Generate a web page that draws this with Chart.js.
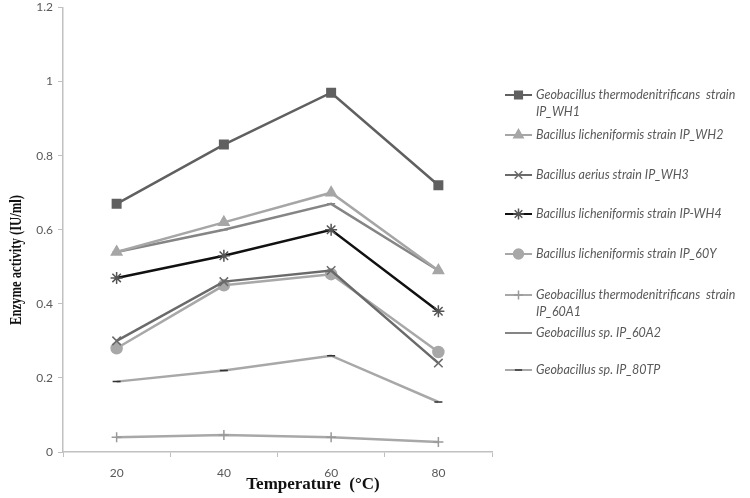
<!DOCTYPE html>
<html>
<head>
<meta charset="utf-8">
<script src="https://cdn.jsdelivr.net/npm/chart.js@4.4.1/dist/chart.umd.min.js"></script>
<style>
  html, body { margin: 0; padding: 0; background: #ffffff; }
  #wrap { position: relative; width: 750px; height: 498px; }
</style>
</head>
<body>
<div id="wrap"><canvas id="c" width="750" height="498"></canvas></div>
<script>
// ---- data ----
const categories = ['20', '40', '60', '80'];
const yTicks = [0, 0.2, 0.4, 0.6, 0.8, 1, 1.2];
const seriesNames = [
  'Geobacillus thermodenitrificans  strain IP_WH1',
  'Bacillus licheniformis strain IP_WH2',
  'Bacillus aerius strain IP_WH3',
  'Bacillus licheniformis strain IP-WH4',
  'Bacillus licheniformis strain IP_60Y',
  'Geobacillus thermodenitrificans  strain IP_60A1',
  'Geobacillus sp. IP_60A2',
  'Geobacillus sp. IP_80TP'
];
const wh1  = [0.67, 0.83, 0.97, 0.72];
const wh2  = [0.54, 0.62, 0.70, 0.49];
const wh3  = [0.30, 0.46, 0.49, 0.24];
const wh4  = [0.47, 0.53, 0.60, 0.38];
const y60  = [0.28, 0.45, 0.48, 0.27];
const a601 = [0.04, 0.046, 0.04, 0.027];
const a602 = [0.54, 0.60, 0.67, 0.49];
const tp80 = [0.19, 0.22, 0.26, 0.135];
const xTitle = 'Temperature  (°C)';
const yTitle = 'Enzyme activity (IU/ml)';

// ---- styles ----
const styles = [
  { color: '#606060', point: 'rect',     radius: 6,   pcolor: '#606060', width: 2.5 },
  { color: '#a6a6a6', point: 'triangle', radius: 6,   pcolor: '#a6a6a6', width: 2.5 },
  { color: '#6a6a6a', point: 'crossRot', radius: 6,   pcolor: '#6a6a6a', width: 2.5 },
  { color: '#111111', point: 'star',     radius: 6,   pcolor: '#555555', width: 2.5 },
  { color: '#a8a8a8', point: 'circle',   radius: 5.5, pcolor: '#a8a8a8', width: 2.5 },
  { color: '#a8a8a8', point: 'cross',    radius: 5,   pcolor: '#999999', width: 2.5 },
  { color: '#858585', point: 'line',     radius: 4,   pcolor: '#858585', width: 2.5 },
  { color: '#a8a8a8', point: 'line',     radius: 4,   pcolor: '#333333', width: 2.5 }
];
const seriesData = [wh1, wh2, wh3, wh4, y60, a601, a602, tp80];

const datasets = seriesData.map((d, i) => ({
  label: seriesNames[i],
  data: d,
  borderColor: styles[i].color,
  backgroundColor: styles[i].pcolor,
  pointBorderColor: styles[i].pcolor,
  pointBackgroundColor: styles[i].pcolor,
  borderWidth: styles[i].width,
  pointStyle: styles[i].point,
  pointRadius: styles[i].radius,
  pointBorderWidth: 1.5,
  tension: 0,
  fill: false
}));

const textColor = '#595959';
const axisColor = '#c0c0c0';

const legendPlugin = {
  id: 'customLegend',
  afterDraw(chart) {
    const ctx = chart.ctx;
    const entryY = [95, 135, 175, 214, 254, 295, 333, 370];
    const x0 = 505, x1 = 532, tx = 536, maxW = 212, lh = 17;
    ctx.save();
    ctx.font = 'italic 12.5px Lato, "Open Sans", sans-serif';
    ctx.textBaseline = 'middle';
    ctx.textAlign = 'left';
    chart.data.datasets.forEach((ds, i) => {
      const y = entryY[i];
      ctx.strokeStyle = ds.borderColor;
      ctx.lineWidth = 2;
      ctx.beginPath(); ctx.moveTo(x0, y); ctx.lineTo(x1, y); ctx.stroke();
      ctx.fillStyle = ds.pointBackgroundColor;
      ctx.strokeStyle = ds.pointBorderColor;
      ctx.lineWidth = 1.5;
      if (Chart.helpers && Chart.helpers.drawPoint) {
        Chart.helpers.drawPoint(ctx, { pointStyle: ds.pointStyle, radius: ds.pointRadius * 0.9, rotation: 0, borderWidth: 1.5 }, (x0 + x1) / 2, y);
      }
      const words = ds.label.split(' ');
      const lines = [];
      let cur = '';
      words.forEach(w => {
        const t = cur === '' ? w : cur + ' ' + w;
        if (ctx.measureText(t).width > maxW && cur !== '') { lines.push(cur); cur = w; }
        else cur = t;
      });
      lines.push(cur);
      ctx.fillStyle = textColor;
      lines.forEach((ln, k) => ctx.fillText(ln, tx, y + k * lh));
    });
    ctx.restore();
  }
};

const titlesPlugin = {
  id: 'axisTitles',
  afterDraw(chart) {
    const ctx = chart.ctx;
    ctx.save();
    ctx.fillStyle = '#111111';
    ctx.textAlign = 'center';
    ctx.textBaseline = 'middle';
    ctx.font = 'bold 17px "Liberation Serif", "Times New Roman", serif';
    ctx.fillText(xTitle, 313, 485);
    ctx.translate(17, 260);
    ctx.rotate(-Math.PI / 2);
    ctx.font = 'bold 17px "Liberation Serif", "Times New Roman", serif';
    const w = ctx.measureText(yTitle).width;
    ctx.scale(130 / w, 1);
    ctx.fillText(yTitle, 0, 0);
    ctx.restore();
  }
};

new Chart(document.getElementById('c'), {
  type: 'line',
  data: { labels: categories, datasets },
  options: {
    responsive: false,
    animation: false,
    events: [],
    layout: { padding: { left: 0, right: 258, top: 7, bottom: 0 } },
    plugins: { legend: { display: false }, tooltip: { enabled: false } },
    scales: {
      x: {
        type: 'category',
        offset: true,
        grid: { offset: true, drawOnChartArea: false, drawTicks: true, tickLength: 5, color: axisColor, lineWidth: 1 },
        border: { color: axisColor, width: 1.5 },
        ticks: { color: textColor, font: { family: 'Lato, "Open Sans", sans-serif', size: 12 }, padding: 9, maxRotation: 0 },
        afterFit(s) { s.height = 46; s.paddingLeft = 0; s.paddingRight = 0; }
      },
      y: {
        min: 0, max: 1.2,
        afterBuildTicks(s) { s.ticks = yTicks.map(v => ({ value: v })); },
        grid: { drawOnChartArea: false, drawTicks: true, tickLength: 5, color: axisColor, lineWidth: 1 },
        border: { color: axisColor, width: 1.5 },
        ticks: { color: textColor, font: { family: 'Lato, "Open Sans", sans-serif', size: 12 }, padding: 5,
                 callback: v => String(+Number(v).toFixed(1)) },
        afterFit(s) { s.width = 63; s.paddingTop = 0; s.paddingBottom = 0; }
      }
    }
  },
  plugins: [legendPlugin, titlesPlugin]
});
</script>
</body>
</html>
